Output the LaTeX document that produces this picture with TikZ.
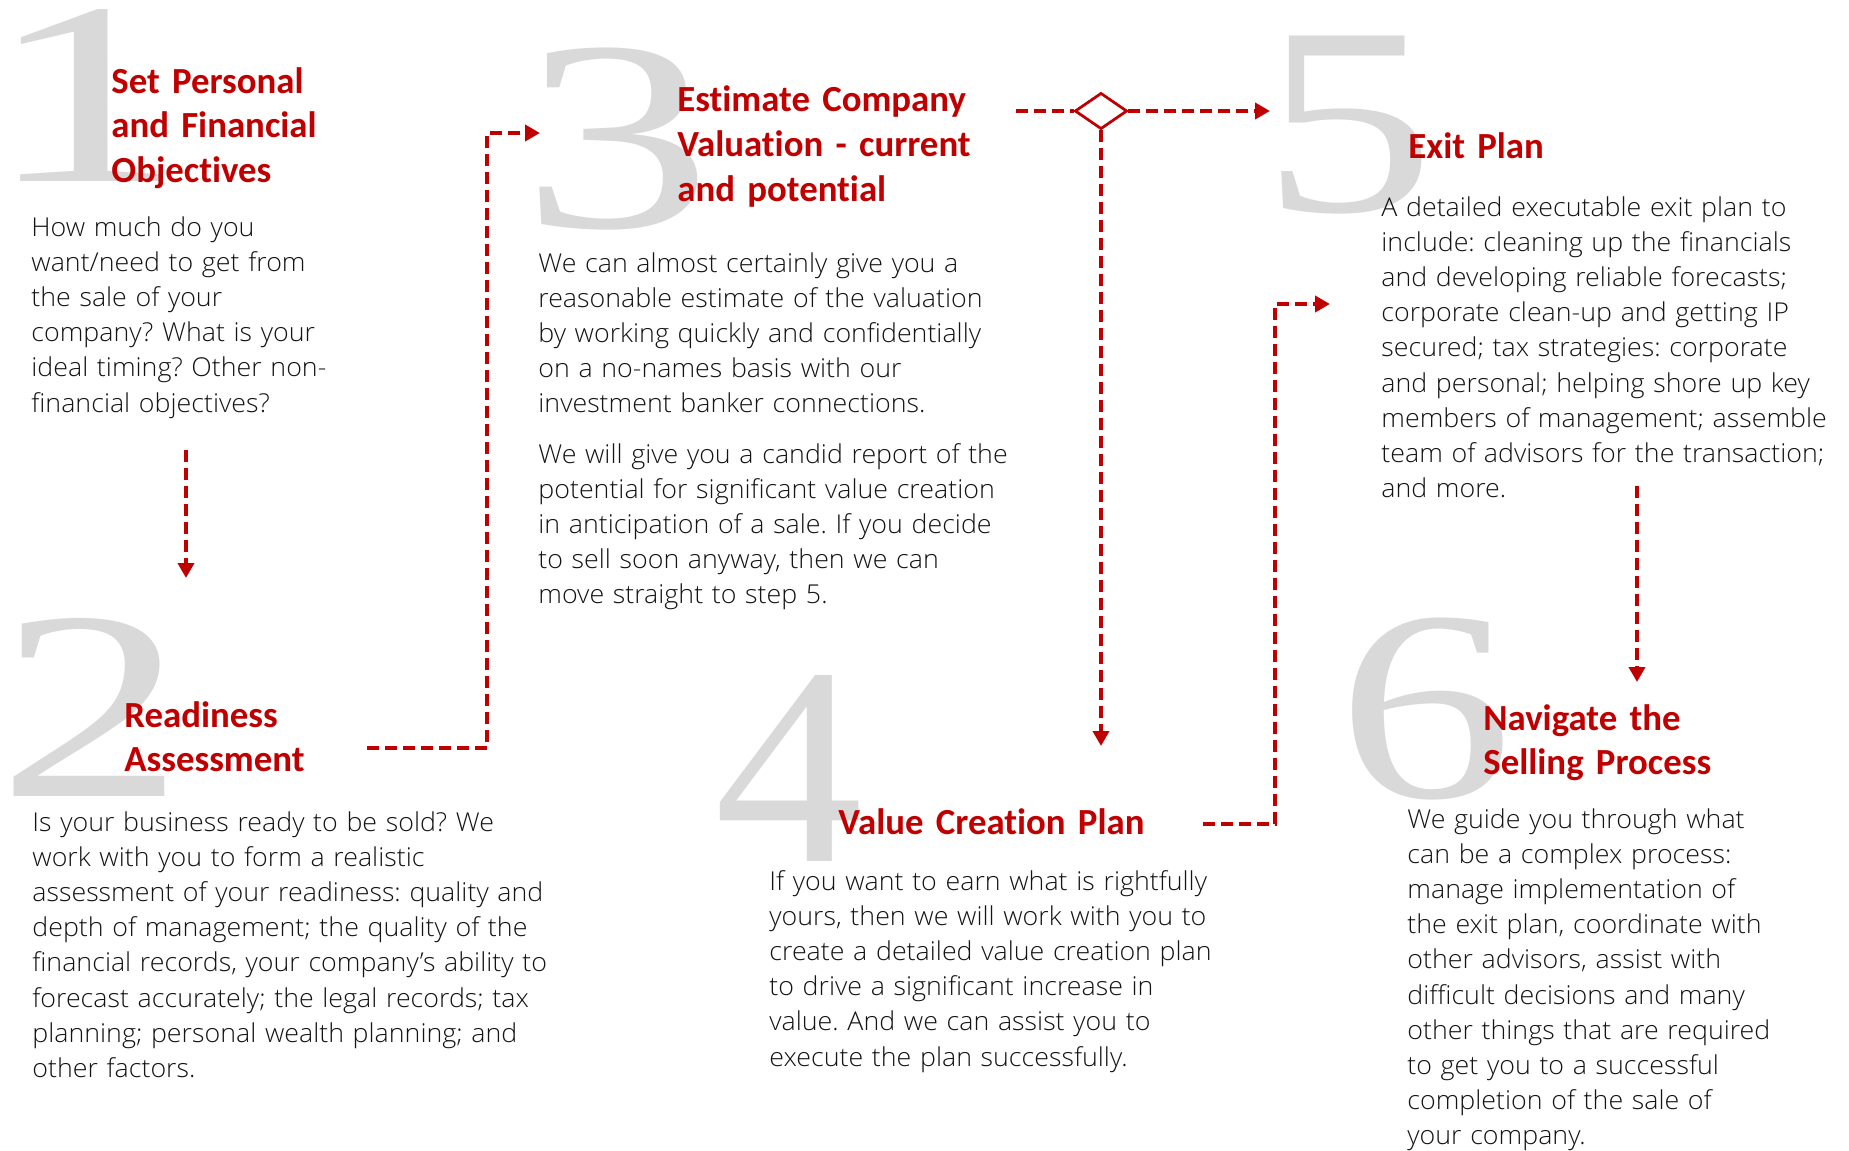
\documentclass[tikz,border=0pt]{standalone}
\usepackage{fontspec}
\usetikzlibrary{arrows.meta,shapes.geometric}
\setmainfont{Carlito}
\newfontfamily\headfont{Carlito}[Ligatures=NoCommon]
\IfFontExistsTF{Open Sans Light}{\newfontfamily\bodyfont{Open Sans Light}[FakeStretch=1.03]}{\IfFontExistsTF{Lato Light}{\newfontfamily\bodyfont{Lato Light}[FakeStretch=1.03]}{\newfontfamily\bodyfont{Open Sans}}}
\newfontfamily\numfont{Liberation Serif}
\definecolor{redc}{HTML}{C00000}
\definecolor{numgray}{HTML}{D9D9D9}
\definecolor{bodyc}{HTML}{141414}
\begin{document}
\begin{tikzpicture}[x=0.5pt,y=-0.5pt,
  num/.style={inner sep=0pt, outer sep=0pt, text=numgray, anchor=center},
  head/.style={inner sep=0pt, anchor=base west, text=redc, text width=300pt, align=left,
    font=\headfont\bfseries\fontsize{18.4}{22.25}\selectfont},
  body/.style={inner sep=0pt, anchor=base west, text=bodyc, text width=320pt, align=left,
    font=\bodyfont\fontsize{13}{17.6}\selectfont\frenchspacing},
  flow/.style={draw=redc, line width=2pt, dash pattern=on 6pt off 3pt},
  tip/.style={-{Triangle[length=7.5pt,width=8pt]}},
  gate/.style={diamond, draw=redc, fill=white, line width=1.3pt, minimum width=26pt,
    minimum height=18pt, inner sep=0pt, aspect=1.44}]
\useasboundingbox[fill=white] (0,0) rectangle (1849,1151);

% big numerals
\node[num] (n1) at (85.5,95) {\resizebox*{100pt}{86pt}{\numfont 1}};
\node[num] (n2) at (92,707) {\resizebox*{94pt}{89pt}{\numfont 2}};
\node[num] (n3) at (617,139) {\resizebox*{95.6pt}{91pt}{\numfont 3}};
\node[num] (n4) at (789,768) {\resizebox*{74.5pt}{93pt}{\numfont 4}};
\node[num] (n5) at (1348,125) {\resizebox*{87pt}{89pt}{\numfont 5}};
\node[num] (n6) at (1425.5,709) {\resizebox*{88pt}{91pt}{\numfont 6}};

% headings
\node[head] (h1) at (111,93) {Set Personal\\and Financial\\Objectives};
\node[head] (h2) at (124,727) {Readiness\\Assessment};
\node[head] (h3) at (677,112) {Estimate Company\\Valuation - current\\and potential};
\node[head] (h4) at (838,834) {Value Creation Plan};
\node[head] (h5) at (1408,158) {Exit Plan};
\node[head] (h6) at (1483,730) {Navigate the\\Selling Process};

% body texts
\node[body] (b1) at (31,236) {How much do you\\want/need to get from\\the sale of your\\company? What is your\\ideal timing? Other non-\\financial objectives?};
\node[body] (b2) at (32,831) {Is your business ready to be sold? We\\work with you to form a realistic\\assessment of your readiness: quality and\\depth of management; the quality of the\\financial records, your company’s ability to\\forecast accurately; the legal records; tax\\planning; personal wealth planning; and\\other factors.};
\node[body] (b3) at (538,272) {We can almost certainly give you a\\reasonable estimate of the valuation\\by working quickly and confidentially\\on a no-names basis with our\\investment banker connections.\\[7.5pt]We will give you a candid report of the\\potential for significant value creation\\in anticipation of a sale. If you decide\\to sell soon anyway, then we can\\move straight to step 5.};
\node[body] (b4) at (769,890) {If you want to earn what is rightfully\\yours, then we will work with you to\\create a detailed value creation plan\\to drive a significant increase in\\value. And we can assist you to\\execute the plan successfully.};
\node[body] (b5) at (1381,216) {A detailed executable exit plan to\\include: cleaning up the financials\\and developing reliable forecasts;\\corporate clean-up and getting IP\\secured; tax strategies: corporate\\and personal; helping shore up key\\members of management; assemble\\team of advisors for the transaction;\\and more.};
\node[body] (b6) at (1407,828) {We guide you through what\\can be a complex process:\\manage implementation of\\the exit plan, coordinate with\\other advisors, assist with\\difficult decisions and many\\other things that are required\\to get you to a successful\\completion of the sale of\\your company.};

% connector end points
\coordinate (a1s) at (186,450);
\coordinate (a1e) at (186,578);
\coordinate (a2s) at (367,748);
\coordinate (a2m) at (487,133);
\coordinate (a2e) at (540,133);
\node[gate] (dia) at (1101,111) {};
\coordinate (a3s) at (1016,111);
\coordinate (a5e) at (1270,111);
\coordinate (a4e) at (1101,746);
\coordinate (a45s) at (1203,824);
\coordinate (a45m) at (1275,304);
\coordinate (a45e) at (1330,304);
\coordinate (a56s) at (1637,486);
\coordinate (a56e) at (1637,682);

% connectors
\draw[flow,tip] (a1s) -- (a1e);
\draw[flow,tip] (a2s) -| (a2m) -- (a2e);
\draw[flow] (a3s) -- (dia.west);
\draw[flow,tip] (dia.east) -- (a5e);
\draw[flow,tip] (dia.south) -- (a4e);
\draw[flow,tip] (a45s) -| (a45m) -- (a45e);
\draw[flow,tip] (a56s) -- (a56e);
\node[gate] at (dia) {};
\end{tikzpicture}
\end{document}
